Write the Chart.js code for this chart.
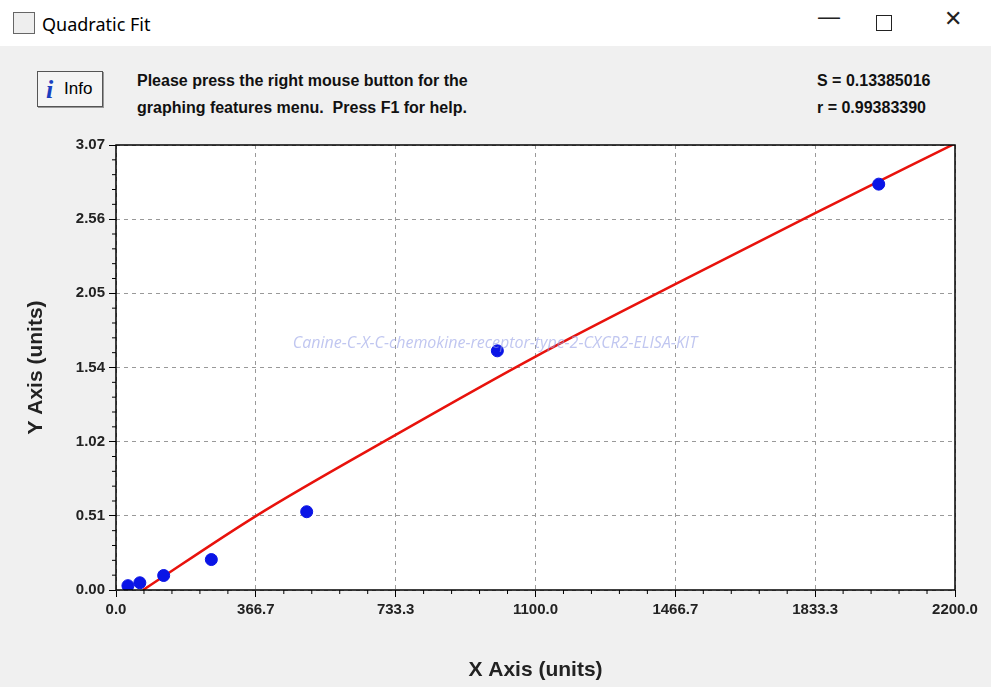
<!DOCTYPE html>
<html><head><meta charset="utf-8">
<script src="https://cdn.jsdelivr.net/npm/chart.js@4/dist/chart.umd.min.js"></script>
<style>
body{margin:0;width:991px;height:687px;background:#f0f0f0;font-family:"Liberation Sans",Arial,sans-serif;overflow:hidden;position:relative}
#tb{position:absolute;left:0;top:0;width:991px;height:46px;background:#fff}
#tb .t{position:absolute;left:42px;top:12px;font-size:18px;color:#000;font-family:"Noto Sans","Liberation Sans",sans-serif}
#ic{position:absolute;left:13px;top:12px;width:20px;height:20px;border:1px solid #666;background:#eee}
.ctl{position:absolute;top:8px;font-size:22px;color:#222}
#info{position:absolute;left:37px;top:71px;width:64px;height:34px;border:1px solid #555;background:#f4f4f4;box-shadow:1px 1px 0 #999;font-size:17px}
#info b{position:absolute;left:8px;top:3px;font-family:serif;font-style:italic;color:#1a3fbf;font-size:26px}
#info span{position:absolute;left:26px;top:7px}
.msg{position:absolute;font-weight:bold;font-size:16px;color:#111}
canvas{position:absolute;left:0;top:0}
</style></head><body>
<div id="tb"><div id="ic"></div><div class="t">Quadratic Fit</div>
<div class="ctl" style="left:818px;top:4px">&#8212;</div>
<div style="position:absolute;left:876px;top:15px;width:14px;height:14px;border:1.5px solid #222"></div>
<div class="ctl" style="left:944px;top:6px">&#10005;</div></div>
<div id="info"><b>i</b><span>Info</span></div>
<div class="msg" style="left:137px;top:72px">Please press the right mouse button for the</div>
<div class="msg" style="left:137px;top:99px">graphing features menu.&nbsp; Press F1 for help.</div>
<div class="msg" style="left:817px;top:72px">S = 0.13385016</div>
<div class="msg" style="left:817px;top:99px">r = 0.99383390</div>
<canvas id="c" width="991" height="687"></canvas>
<script>
const pointX=[31.25,62.5,125,250,500,1000,2000];
const pointY=[0.03,0.05,0.10,0.21,0.54,1.65,2.80];
const fitX=[71,366.7,733.3,1100,1466.7,1833.3,2200];
const fitY=[0,0.51,1.07,1.61,2.11,2.60,3.08];
const xTicks=[0,366.7,733.3,1100,1466.7,1833.3,2200];
const xLabels=['0.0','366.7','733.3','1100.0','1466.7','1833.3','2200.0'];
const yTicks=[0,0.5117,1.0233,1.535,2.0467,2.5583,3.07];
const yLabels=['0.00','0.51','1.02','1.54','2.05','2.56','3.07'];
const bold={family:'"Liberation Sans",Arial,sans-serif',weight:'bold',size:15};
const extras={id:'extras',afterDraw(ch){
 const c=ch.ctx,a=ch.chartArea,x=ch.scales.x,y=ch.scales.y;
 c.save();c.strokeStyle='#000';c.lineWidth=1;
 for(let i=0;i<xTicks.length-1;i++)for(let k=1;k<5;k++){const p=x.getPixelForValue(xTicks[i]+(xTicks[i+1]-xTicks[i])*k/5);c.beginPath();c.moveTo(p,a.bottom);c.lineTo(p,a.bottom+4);c.stroke();}
 for(let i=0;i<yTicks.length-1;i++)for(let k=1;k<5;k++){const p=y.getPixelForValue(yTicks[i]+(yTicks[i+1]-yTicks[i])*k/5);c.beginPath();c.moveTo(a.left,p);c.lineTo(a.left-4,p);c.stroke();}
 c.lineWidth=1.5;c.strokeRect(a.left,a.top,a.right-a.left,a.bottom-a.top);
 c.font='italic 16px "Open Sans",sans-serif';c.fillStyle='rgba(150,160,230,0.6)';c.textAlign='center';
 c.fillText('Canine-C-X-C-chemokine-receptor-type-2-CXCR2-ELISA-KIT',495,348);
 c.restore();}};
const bg={id:'bg',beforeDraw(ch){const a=ch.chartArea;ch.ctx.fillStyle='#fff';ch.ctx.fillRect(a.left,a.top,a.right-a.left,a.bottom-a.top);}};
new Chart(document.getElementById('c'),{type:'scatter',
data:{datasets:[
 {type:'line',data:fitX.map((v,i)=>({x:v,y:fitY[i]})),borderColor:'#e8120c',borderWidth:2.5,pointRadius:0,tension:0.4,cubicInterpolationMode:'monotone',order:2},
 {data:pointX.map((v,i)=>({x:v,y:pointY[i]})),backgroundColor:'#0a14e6',borderColor:'#0a14e6',pointRadius:6,order:1}]},
options:{responsive:false,animation:false,layout:{padding:{top:145,right:36,left:20,bottom:0}},
plugins:{legend:{display:false},tooltip:{enabled:false}},
scales:{
 x:{type:'linear',min:0,max:2200,afterBuildTicks:s=>{s.ticks=xTicks.map(v=>({value:v}))},afterFit:s=>{s.height=97},
  ticks:{color:'#222',font:bold,maxRotation:0,callback:(v,i)=>xLabels[i],padding:4},
  grid:{color:'#999',tickColor:'#000',tickLength:7,drawTicks:true},border:{display:false,dash:[4,4]},
  title:{display:true,text:'X Axis (units)',color:'#222',font:{...bold,size:21},padding:{top:18}}},
 y:{type:'linear',min:0,max:3.07,afterBuildTicks:s=>{s.ticks=yTicks.map(v=>({value:v}))},afterFit:s=>{s.width=96},
  ticks:{color:'#222',font:bold,callback:(v,i)=>yLabels[i],padding:4},
  grid:{color:'#999',tickColor:'#000',tickLength:7},border:{display:false,dash:[4,4]},
  title:{display:true,text:'Y Axis (units)',color:'#222',font:{...bold,size:21},padding:{bottom:4}}}}},
plugins:[bg,extras]});
</script></body></html>
